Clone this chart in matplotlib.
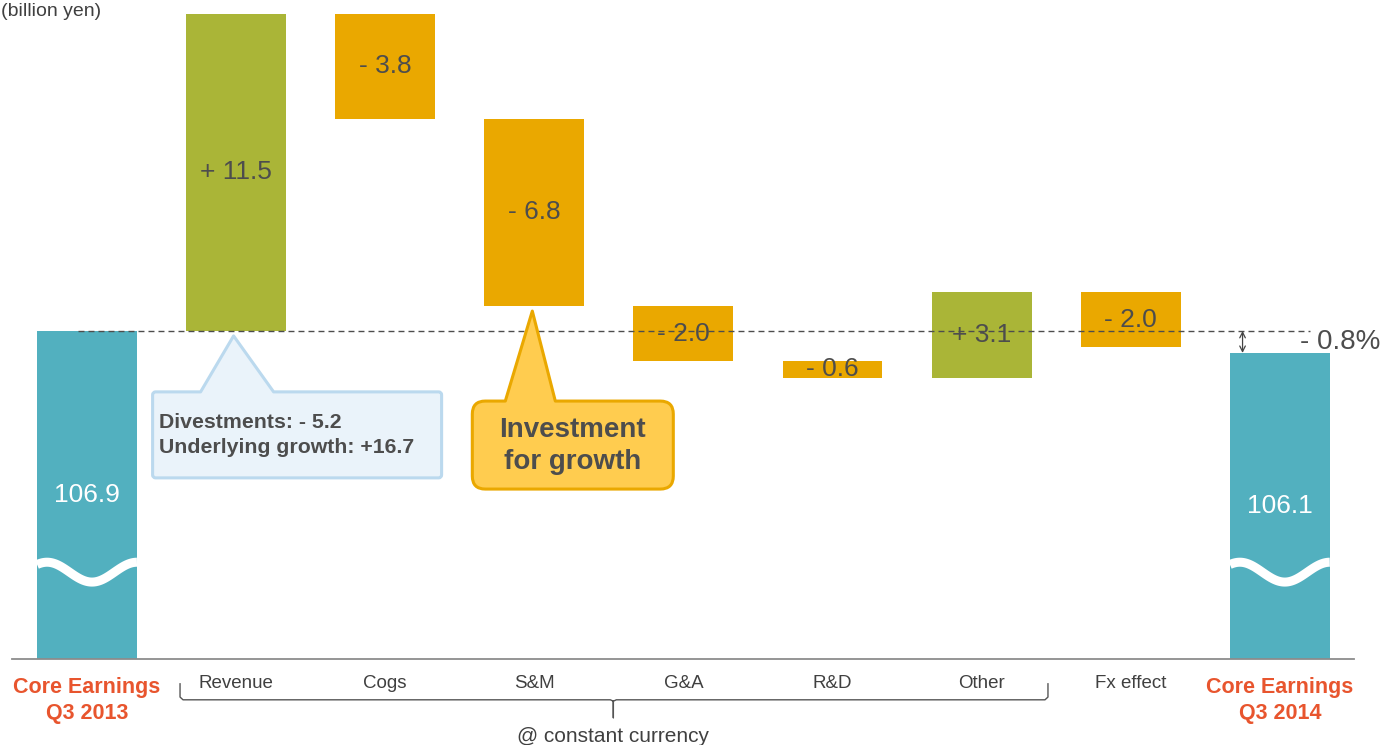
import numpy as np
import matplotlib
matplotlib.use("Agg")
import matplotlib.pyplot as plt
from matplotlib.path import Path
from matplotlib.patches import PathPatch
import matplotlib.transforms as mtransforms

plt.rcParams["font.family"] = ["Liberation Sans", "DejaVu Sans"]

# ===== DATA (billion yen) =====
start_label = "Core Earnings\nQ3 2013"
end_label = "Core Earnings\nQ3 2014"
start_value = 106.9
end_value = 106.1
steps = ["Revenue", "Cogs", "S&M", "G&A", "R&D", "Other", "Fx effect"]
deltas = [11.5, -3.8, -6.8, -2.0, -0.6, 3.1, -2.0]
step_labels = ["+ 11.5", "- 3.8", "- 6.8", "- 2.0", "- 0.6", "+ 3.1", "- 2.0"]
change_label = "- 0.8%"
divest_text = "Divestments: - 5.2\nUnderlying growth: +16.7"
invest_text = "Investment\nfor growth"

# ===== STYLE =====
TEAL = "#52B0BF"
GREEN = "#AAB537"
ORANGE = "#EAA800"
RED = "#E8552E"
TEXT = "#4D4D4D"
BAR_W = 0.67
BREAK_Y = 98.15


def callout(ax, anchor, tip, base, box, radius, fc, ec):
    # rounded box with a pointer on its top edge, offsets in pixels from anchor
    x0, x1, y0, y1 = box
    bx0, bx1 = base
    r = radius
    verts = [
        (bx0, y1), tip, (bx1, y1),
        (x1 - r, y1), (x1, y1), (x1, y1 - r),
        (x1, y0 + r), (x1, y0), (x1 - r, y0),
        (x0 + r, y0), (x0, y0), (x0, y0 + r),
        (x0, y1 - r), (x0, y1), (x0 + r, y1),
        (bx0, y1), (bx0, y1),
    ]
    codes = [
        Path.MOVETO, Path.LINETO, Path.LINETO,
        Path.LINETO, Path.CURVE3, Path.CURVE3,
        Path.LINETO, Path.CURVE3, Path.CURVE3,
        Path.LINETO, Path.CURVE3, Path.CURVE3,
        Path.LINETO, Path.CURVE3, Path.CURVE3,
        Path.LINETO, Path.CLOSEPOLY,
    ]
    trans = mtransforms.ScaledTranslation(anchor[0], anchor[1], ax.transData)
    patch = PathPatch(Path(verts, codes), facecolor=fc, edgecolor=ec,
                      lw=2.2, joinstyle="round", transform=trans, zorder=5)
    ax.add_patch(patch)


fig = plt.figure(figsize=(13.83, 7.45), dpi=100)
ax = fig.add_axes([0, 86 / 745, 1, 659 / 745])
ax.set_xlim(-0.5835, 8.692)
ax.set_ylim(95, 118.9)
ax.axis("off")

# ===== WATERFALL =====
levels = start_value + np.concatenate([[0], np.cumsum(deltas)])
n = len(steps)
xs = np.arange(1, n + 1)

for i, d in enumerate(deltas):
    bottom = levels[i] if d > 0 else levels[i + 1]
    color = GREEN if d > 0 else ORANGE
    ax.bar(xs[i], abs(d), bottom=bottom, width=BAR_W, color=color, zorder=2)
    ax.text(xs[i], bottom + abs(d) / 2, step_labels[i], ha="center",
            va="center", fontsize=19, color=TEXT, zorder=4)

totals = [(0, start_value), (n + 1, end_value)]
for x, v in totals:
    ax.bar(x, v, width=BAR_W, color=TEAL, zorder=2)
    ax.text(x, (v + 95) / 2, f"{v:.1f}", ha="center", va="center",
            fontsize=19, color="white", zorder=4)
    # axis break wave
    wx = np.linspace(-BAR_W / 2, BAR_W / 2, 120)
    t = (wx + BAR_W / 2) / BAR_W
    wy = BREAK_Y + 0.36 * np.cos(2 * np.pi * (t - 0.1) / 0.9)
    ax.plot(x + wx, wy, color="white", lw=6.5, solid_capstyle="butt",
            zorder=3)

# reference line at starting level
ax.plot([-0.06, 8.2], [start_value, start_value], color="#4D4D4D", lw=1,
        dashes=(4.3, 2.9), zorder=4)

# baseline
ax.plot([-0.5, 8.5], [95, 95], color="#8C8C8C", lw=1.3, clip_on=False,
        zorder=4)

# change arrow and percentage
ax.annotate("", xy=(n + 1 - 0.25, end_value), xytext=(n + 1 - 0.25, start_value),
            arrowprops=dict(arrowstyle="<->", lw=0.9, color="#444444",
                            shrinkA=0, shrinkB=0, mutation_scale=10),
            zorder=5)
ax.text(n + 1 + 0.135, (start_value + end_value) / 2, change_label,
        ha="left", va="center", fontsize=20, color=TEXT)

# ===== CALLOUTS =====
callout(ax, (1, start_value), tip=(-2.5, -5), base=(-35.5, 37.5),
        box=(-83.5, 205.5, -147, -61), radius=3,
        fc="#EAF3FA", ec="#BBD9EE")
ax.annotate(divest_text, xy=(1, start_value), xycoords="data",
            xytext=(-77, -104), textcoords="offset pixels",
            ha="left", va="center", fontsize=15.3, fontweight="bold",
            color=TEXT, linespacing=1.35, zorder=6)

sm_bottom = levels[3]
callout(ax, (3, sm_bottom), tip=(-2, -5), base=(-29, 21),
        box=(-62, 139, -183, -95), radius=13,
        fc="#FFCC4F", ec=ORANGE)
ax.annotate(invest_text, xy=(3, sm_bottom), xycoords="data",
            xytext=(38, -140), textcoords="offset pixels",
            ha="center", va="center", fontsize=20, fontweight="bold",
            color=TEXT, linespacing=1.28, zorder=6)

# ===== CATEGORY LABELS =====
for x, name in zip(xs, steps):
    ax.text(x, 94.1, name, ha="center", va="center", fontsize=13.5,
            color="#404040", clip_on=False)
for x, name in [(0, start_label), (n + 1, end_label)]:
    ax.text(x, 93.5, name, ha="center", va="center", fontsize=15.5,
            fontweight="bold", color=RED, linespacing=1.28, clip_on=False)

# brace under constant-currency items
bl, br, bm = 0.624, 6.445, 3.53
y_h, y_end, y_tip = 93.52, 94.1, 92.87
dx = 0.02
brace_x = [bl, bl, bl + dx, bm - dx, bm, bm, bm, bm + dx, br - dx, br, br]
brace_y = [y_end, y_h + 0.1, y_h, y_h, y_h - 0.05, y_tip, y_h - 0.05, y_h,
           y_h, y_h + 0.1, y_end]
ax.plot(brace_x, brace_y, color="#555555", lw=1, clip_on=False)
ax.text(bm, 92.18, "@ constant currency", ha="center", va="center",
        fontsize=15, color="#404040", clip_on=False)

fig.text(1 / 1383, 1 - 12 / 745, "(billion yen)", ha="left", va="center",
         fontsize=14, color="#404040")

fig.savefig("out.png", dpi=100)
